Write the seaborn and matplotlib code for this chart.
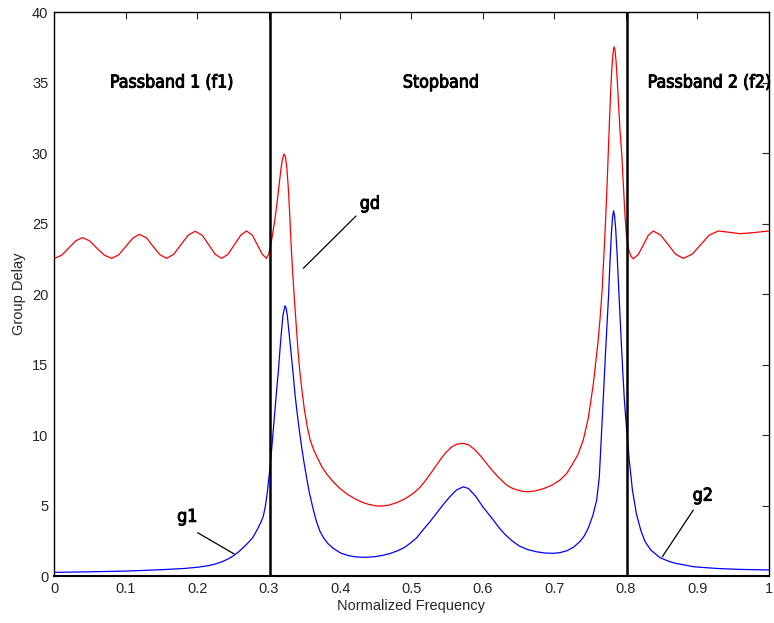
import numpy as np
import pandas as pd
import matplotlib
matplotlib.use("Agg")
import matplotlib.pyplot as plt
from matplotlib import font_manager
import matplotlib.patheffects as pe
import seaborn as sns

# gd: overall group delay (red)
gd_x = [0.000, 0.010, 0.020, 0.030, 0.039, 0.049, 0.059, 0.070, 0.080, 0.090,
        0.100, 0.110, 0.119, 0.129, 0.138, 0.148, 0.157, 0.167, 0.177, 0.187,
        0.197, 0.207, 0.216, 0.225, 0.234, 0.243, 0.252, 0.261, 0.269, 0.277,
        0.284, 0.291, 0.297, 0.300, 0.303, 0.306, 0.309, 0.312, 0.315, 0.317,
        0.319, 0.3214, 0.3235, 0.3255, 0.3275, 0.3295, 0.3315, 0.3335, 0.336,
        0.339, 0.3415, 0.3438, 0.347, 0.350, 0.354, 0.358, 0.363, 0.369, 0.375,
        0.381, 0.390, 0.400, 0.410, 0.420, 0.430, 0.440, 0.450, 0.458, 0.468,
        0.480, 0.490, 0.5026, 0.512, 0.520, 0.530, 0.540, 0.548, 0.556, 0.564,
        0.5726, 0.580, 0.589, 0.597, 0.605, 0.612, 0.620, 0.627, 0.6333, 0.640,
        0.648, 0.656, 0.6636, 0.673, 0.685, 0.697, 0.708, 0.717, 0.725, 0.733,
        0.7406, 0.7476, 0.7546, 0.761, 0.764, 0.767, 0.771, 0.7735, 0.7757,
        0.7775, 0.779, 0.7805, 0.782, 0.7836, 0.785, 0.7865, 0.788, 0.790,
        0.792, 0.7944, 0.796, 0.7975, 0.799, 0.8005, 0.802, 0.804, 0.807,
        0.8106, 0.8176, 0.8247, 0.8317, 0.8387, 0.849, 0.8597, 0.870, 0.8807,
        0.893, 0.905, 0.917, 0.9297, 0.945, 0.960, 0.980, 1.000]
gd_y = [22.53, 22.75, 23.27, 23.78, 24.00, 23.78, 23.27, 22.75, 22.53, 22.78,
        23.38, 23.98, 24.23, 23.98, 23.38, 22.78, 22.53, 22.82, 23.49, 24.16,
        24.45, 24.16, 23.49, 22.82, 22.53, 22.82, 23.50, 24.18, 24.47, 24.18,
        23.50, 22.82, 22.53, 22.85, 23.5, 24.4, 25.4, 26.6, 27.9, 28.8,
        29.5, 29.93, 29.7, 28.9, 27.5, 25.6, 23.4, 21.6, 19.6,
        17.5, 15.7, 14.4, 13.0, 11.8, 10.6, 9.65, 8.95, 8.3, 7.7,
        7.25, 6.7, 6.2, 5.8, 5.5, 5.25, 5.08, 4.98, 4.96, 5.02,
        5.22, 5.45, 5.86, 6.3, 6.8, 7.5, 8.23, 8.75, 9.15, 9.36,
        9.41, 9.3, 8.95, 8.5, 7.99, 7.55, 7.1, 6.75, 6.45, 6.25,
        6.1, 6.0, 5.98, 6.03, 6.2, 6.45, 6.81, 7.25, 7.9, 8.6,
        9.65, 11.2, 13.6, 16.5, 18.2, 20.3, 24.3, 27.2, 30.2,
        32.6, 34.4, 35.9, 37.0, 37.54, 37.3, 36.5, 35.3, 33.5,
        31.6, 30.0, 28.4, 27.0, 25.6, 24.5, 23.8, 23.2, 22.7,
        22.5, 22.80, 23.48, 24.17, 24.47, 24.17, 23.49, 22.82, 22.53,
        22.82, 23.50, 24.18, 24.47, 24.38, 24.28, 24.36, 24.47]

# g1 / g2: section group delays (blue)
g_x = [0.000, 0.050, 0.100, 0.150, 0.180, 0.200, 0.215, 0.225, 0.235, 0.245,
       0.250, 0.258, 0.265, 0.272, 0.278, 0.284, 0.2885, 0.2925, 0.2955, 0.298,
       0.301, 0.304, 0.3065, 0.309, 0.3115, 0.3135, 0.316, 0.318, 0.320, 0.3228,
       0.3245, 0.326, 0.328, 0.331, 0.3345, 0.337, 0.340, 0.343, 0.346, 0.349,
       0.353, 0.357, 0.3625, 0.367, 0.372, 0.377, 0.383, 0.390, 0.400, 0.410,
       0.420, 0.430, 0.440, 0.450, 0.460, 0.470, 0.480, 0.490, 0.498, 0.507,
       0.515, 0.525, 0.535, 0.545, 0.555, 0.563, 0.5726, 0.580, 0.590, 0.600,
       0.6146, 0.623, 0.632, 0.642, 0.652, 0.663, 0.675, 0.687, 0.6986, 0.708,
       0.718, 0.727, 0.736, 0.742, 0.748, 0.754, 0.7594, 0.763, 0.766, 0.769,
       0.7715, 0.774, 0.776, 0.778, 0.780, 0.7815, 0.783, 0.7845, 0.786, 0.788,
       0.790, 0.792, 0.794, 0.796, 0.798, 0.800, 0.802, 0.805, 0.8094, 0.815,
       0.8214, 0.827, 0.835, 0.848, 0.860, 0.870, 0.8947, 0.910, 0.930, 0.960,
       1.000]
g_y = [0.26, 0.30, 0.35, 0.45, 0.53, 0.62, 0.73, 0.85, 1.02, 1.26,
       1.42, 1.72, 2.05, 2.4, 2.75, 3.3, 3.75, 4.25, 5.0, 5.9,
       7.3, 8.9, 10.4, 11.9, 13.4, 14.5, 16.2, 17.4, 18.5, 19.17,
       19.0, 18.5, 17.5, 16.0, 14.2, 12.8, 11.5, 10.3, 9.2, 8.2,
       7.0, 5.9, 4.7, 3.85, 3.15, 2.7, 2.3, 1.98, 1.65, 1.47,
       1.37, 1.33, 1.34, 1.38, 1.47, 1.6, 1.78, 2.02, 2.32, 2.7,
       3.2, 3.8, 4.45, 5.1, 5.7, 6.1, 6.33, 6.2, 5.65, 4.9,
       3.97, 3.4, 2.9, 2.45, 2.1, 1.87, 1.72, 1.63, 1.61, 1.66,
       1.8, 2.05, 2.45, 2.85, 3.45, 4.3, 5.4, 7.0, 10.0, 13.0,
       15.6, 18.0, 19.9, 22.3, 24.3, 25.4, 25.9, 25.5, 24.6, 22.8,
       20.6, 18.5, 16.4, 14.4, 12.6, 11.2, 10.0, 8.2, 6.1, 4.4,
       3.2, 2.45, 1.85, 1.3, 1.05, 0.9, 0.66, 0.6, 0.53, 0.47,
       0.43]

band_edges = [0.3025, 0.8025]
band_labels = ["Passband 1 (f1)", "Stopband", "Passband 2 (f2)"]
band_label_x = [0.0777, 0.541, 0.8308]
band_label_ha = ["left", "center", "left"]
band_label_y = 35.0

curve_names = ["gd", "g1", "g2"]
name_pos = [(0.4418, 26.4), (0.186, 4.2), (0.908, 5.7)]
pointer_lines = [((0.4222, 0.3485), (25.53, 21.82)),
                 ((0.2006, 0.2518), (3.07, 1.56)),
                 ((0.8947, 0.8513), (4.68, 1.37))]

x_ticks = [0, 0.1, 0.2, 0.3, 0.4, 0.5, 0.6, 0.7, 0.8, 0.9, 1]
x_tick_labels = ["0", "0.1", "0.2", "0.3", "0.4", "0.5", "0.6", "0.7", "0.8", "0.9", "1"]
y_ticks = [0, 5, 10, 15, 20, 25, 30, 35, 40]


def pick_condensed_font():
    """Prefer a regular-weight narrow face, then any condensed one."""
    fonts = font_manager.fontManager.ttflist
    upright = [f for f in fonts if f.style == "normal"]
    for f in upright:
        if f.name == "Liberation Sans Narrow" and f.weight in (400, "normal", "regular"):
            return font_manager.FontProperties(fname=f.fname)
    narrow = [f for f in upright
              if "Narrow" in f.name or "Condensed" in f.name
              or f.stretch in ("condensed", "semi-condensed")]
    for f in narrow:
        if f.weight in (400, 500, "normal", "regular", "medium") and "Bold" not in f.fname:
            return font_manager.FontProperties(fname=f.fname)
    if narrow:
        return font_manager.FontProperties(fname=narrow[0].fname)
    return font_manager.FontProperties(family="DejaVu Sans")


sns.set_style("white")
plt.rcParams['font.family'] = ['Liberation Sans', 'DejaVu Sans']

fig = plt.figure(figsize=(7.74, 6.23), dpi=100)
ax = fig.add_axes([0.0704, 0.0754, 0.9225, 0.9053])

gd_df = pd.DataFrame({"f": gd_x, "delay": gd_y})
g_df = pd.DataFrame({"f": g_x, "delay": g_y})
sns.lineplot(data=gd_df, x="f", y="delay", color="red", linewidth=0.9,
             estimator=None, ax=ax)
sns.lineplot(data=g_df, x="f", y="delay", color="blue", linewidth=0.9,
             estimator=None, ax=ax)

for edge in band_edges:
    ax.axvline(edge, color="black", linewidth=1.8)

# size the label font so "Passband 1 (f1)" is about 125 px wide, as in the reference
cond_prop = pick_condensed_font()
cond_prop.set_size(16)
renderer = fig.canvas.get_renderer()
probe = fig.text(0, 0, band_labels[0], fontproperties=cond_prop)
w = probe.get_window_extent(renderer).width
probe.remove()
cond_prop.set_size(min(18, 16 * 124.0 / w))
heavy = [pe.withStroke(linewidth=0.7, foreground="black")]

for lab, lx, ha in zip(band_labels, band_label_x, band_label_ha):
    ax.text(lx, band_label_y, lab, ha=ha, va="center",
            fontproperties=cond_prop, color="black", path_effects=heavy)

for name, (nx, ny), (lxs, lys) in zip(curve_names, name_pos, pointer_lines):
    ax.text(nx, ny, name, ha="center", va="center", fontproperties=cond_prop,
            color="black", path_effects=heavy)
    ax.plot(lxs, lys, color="black", linewidth=0.9)

ax.set_xlim(0, 1)
ax.set_ylim(0, 40)
ax.set_xticks(x_ticks)
ax.set_xticklabels(x_tick_labels)
ax.set_yticks(y_ticks)
ax.tick_params(axis="both", which="both", direction="in", length=5, width=0.8,
               top=True, right=True, labelsize=10.5, pad=4.5)
for s in ax.spines.values():
    s.set_visible(True)
    s.set_color("black")
    s.set_linewidth(1.0)
ax.spines["bottom"].set_linewidth(1.5)

ax.set_xlabel("Normalized Frequency", fontsize=10.5, labelpad=2)
ax.set_ylabel("Group Delay", fontsize=10.5, labelpad=4)

fig.savefig("out.png", dpi=100)
